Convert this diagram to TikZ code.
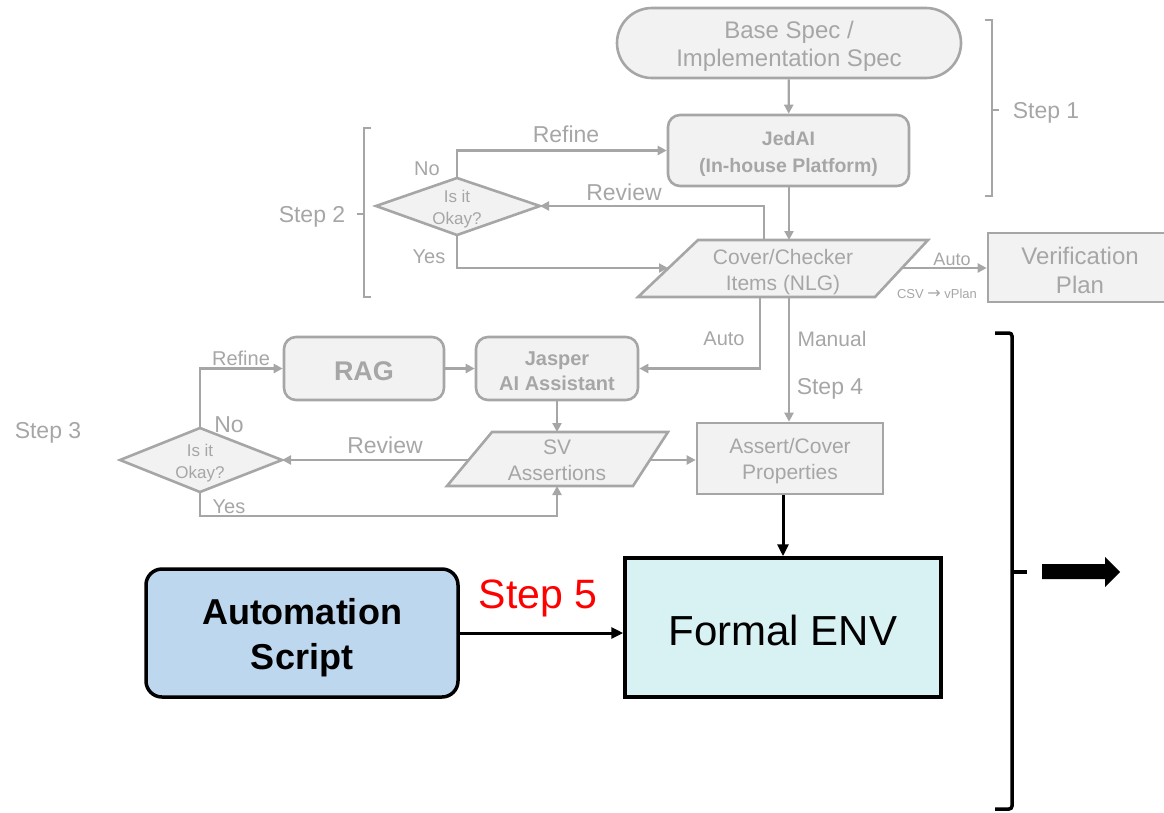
\documentclass[tikz,border=0pt]{standalone}
\usepackage{fontspec}
\setmainfont{Liberation Sans}
\newfontfamily\symfont{DejaVu Sans}
\usetikzlibrary{arrows.meta}

\definecolor{ink}{HTML}{A6A6A6}
\definecolor{paper}{HTML}{F2F2F2}
\definecolor{envfill}{HTML}{D8F2F4}
\definecolor{autofill}{HTML}{BDD7EE}

\newcommand\fsz[2]{\fontsize{#1}{#2}\selectfont}

\tikzset{
  flow/.style={draw=ink, line width=2.6pt, fill=paper, inner sep=0pt},
  flowpath/.style={draw=ink, line width=2.6pt, fill=paper, line join=miter},
  conn/.style={draw=ink, line width=2.2pt, -{Triangle[length=9pt,width=9pt]}},
  lbl/.style={text=ink, inner sep=0pt, align=center, yshift=-3pt},
  bracket/.style={draw=ink, line width=2.4pt},
  strong/.style={draw=black, line width=3pt, -{Triangle[length=12pt,width=11pt]}},
  bigbox/.style={draw=black, line width=3.5pt, inner sep=0pt},
  bigtext/.style={inner sep=0pt, align=center},
}

\begin{document}
\begin{tikzpicture}[x=1pt,y=-1pt]
\useasboundingbox (0,0) rectangle (1164,812);

% ---------- Step 1 / Step 2 ----------
\node[flow, rounded corners=35pt, minimum width=344pt, minimum height=70pt] (spec) at (789,43) {};
\node[lbl, font=\fsz{24}{28}] (specT) at (spec) {Base Spec /\\Implementation Spec};
\node[flow, rounded corners=12pt, minimum width=241pt, minimum height=71pt] (jedai) at (788.5,150.5) {};
\node[lbl, font=\bfseries\fsz{19.5}{27}] (jedaiT) at (jedai) {JedAI\\(In-house Platform)};

% Cover/Checker parallelogram
\draw[flowpath] (698,240) -- (928,240) -- (875,297) -- (638,297) -- cycle;
\node[lbl, font=\fsz{21}{26}] (cover) at (783,269) {Cover/Checker\\Items (NLG)};
\coordinate (coverT) at (789,240);
\coordinate (coverRv) at (764,240);
\coordinate (coverL) at (668,268);
\coordinate (coverR) at (902,268);
\coordinate (coverB1) at (760,297);
\coordinate (coverB2) at (789,297);

\node[flow, minimum width=184pt, minimum height=69pt] (vplan) at (1080,267.5) {};
\node[lbl, font=\fsz{24}{29}] (vplanT) at (vplan) {Verification\\Plan};

% decision diamond (step 2)
\draw[flowpath] (376,206) coordinate (d1l) -- (457,178) coordinate (d1t)
  -- (540,206) coordinate (d1r) -- (457,235) coordinate (d1b) -- cycle;
\node[lbl, font=\fsz{17}{22}] (d1) at (457,206) {Is it\\Okay?};

\draw[conn] (spec) -- (jedai);
\draw[conn] (jedai.south -| coverT) -- (coverT);
\draw[conn] (d1t) |- (jedai.west);
\draw[conn] (coverRv) |- (d1r);
\draw[conn] (d1b) |- (coverL);
\draw[conn] (coverR) -- (coverR -| vplan.west);

\node[lbl, font=\fsz{23}{26}] (refine1) at (566,131) {Refine};
\node[lbl, font=\fsz{20}{24}] (no1) at (427,166) {No};
\node[lbl, font=\fsz{23}{26}] (review1) at (624,189) {Review};
\node[lbl, font=\fsz{20}{24}] (yes1) at (429,254) {Yes};
\node[lbl, font=\fsz{18}{22}] (auto1) at (952,256) {Auto};
\node[lbl, font=\fsz{13}{16}] (csv) at (937,291) {CSV {\symfont\fontsize{16}{16}\selectfont→} vPlan};

% brackets
\draw[bracket] (985,20) -- (992,20) -- (992,196) -- (985,196);
\draw[bracket] (992,110) -- (999,110);
\node[lbl, font=\fsz{23}{26}] (step1) at (1046,110) {Step 1};
\draw[bracket] (371,128) -- (364,128) -- (364,297) -- (371,297);
\draw[bracket] (364,214) -- (357,214);
\node[lbl, font=\fsz{23}{26}] (step2) at (312,214) {Step 2};

% ---------- Step 3 / Step 4 ----------
\node[flow, rounded corners=12pt, minimum width=160pt, minimum height=63pt] (rag) at (364,368.5) {};
\node[lbl, font=\bfseries\fsz{27}{30}] (ragT) at (rag) {RAG};
\node[flow, rounded corners=12pt, minimum width=162pt, minimum height=63pt] (jasper) at (557,368.5) {};
\node[lbl, font=\bfseries\fsz{20}{25}] (jasperT) at (jasper) {Jasper\\AI Assistant};

% SV assertions parallelogram
\draw[flowpath] (492,432) -- (668,432) -- (633,486) -- (447,486) -- cycle;
\node[lbl, font=\fsz{21}{26}, yshift=2pt] (sv) at (557,459) {SV\\Assertions};
\coordinate (svT) at (557,432);
\coordinate (svB) at (557,486);
\coordinate (svL) at (469,460);
\coordinate (svR) at (650,460);

\node[flow, minimum width=186pt, minimum height=71pt] (assert) at (790,458.5) {};
\node[lbl, font=\fsz{21}{26}] (assertT) at (assert) {Assert/Cover\\Properties};

% decision diamond (step 3)
\draw[flowpath] (120,460) coordinate (d2l) -- (200,428) coordinate (d2t)
  -- (282,460) coordinate (d2r) -- (200,492) coordinate (d2b) -- cycle;
\node[lbl, font=\fsz{17}{22}] (d2) at (200,460) {Is it\\Okay?};

\draw[conn] (coverB1) |- (jasper.east);
\draw[conn] (coverB2) -- (coverB2 |- assert.north);
\draw[conn] (rag) -- (jasper);
\draw[conn] (jasper) -- (svT);
\draw[conn] (svR) -- (svR -| assert.west);
\draw[conn] (svL) -- (d2r);
\draw[conn] (d2t) |- (rag.west);
\draw[conn] (d2b) -- (200,516) -| (svB);

\node[lbl, font=\fsz{20}{24}] (auto2) at (724,336) {Auto};
\node[lbl, font=\fsz{21}{26}] (manual) at (832,336) {Manual};
\node[lbl, font=\fsz{23}{26}] (step4) at (830,386) {Step 4};
\node[lbl, font=\fsz{20}{24}] (refine2) at (241,355) {Refine};
\node[lbl, font=\fsz{23}{26}] (no2) at (229,422) {No};
\node[lbl, font=\fsz{23}{26}] (review2) at (385,442) {Review};
\node[lbl, font=\fsz{20}{24}] (yes2) at (229,504) {Yes};
\node[lbl, font=\fsz{23}{26}] (step3) at (48,430) {Step 3};

% ---------- Step 5 ----------
\node[bigbox, fill=envfill, minimum width=316pt, minimum height=139pt] (formal) at (783,627.5) {};
\node[bigtext, font=\fsz{42}{48}, yshift=-3pt] (formalT) at (formal) {Formal ENV};
\node[bigbox, fill=autofill, rounded corners=16pt, minimum width=312pt,
      minimum height=128pt] (autoscript) at (302,633) {};
\node[bigtext, font=\bfseries\fsz{36}{45}, yshift=-5pt] (autoscriptT) at (autoscript) {Automation\\Script};

\draw[strong] (formal.north |- assert.south) -- (formal.north);
\draw[strong] (autoscript.east) -- (autoscript.east -| formal.west);
\node[text=red, inner sep=0pt, font=\fsz{41}{46}] (step5) at (538,598) {Step 5};

% outer bracket and block arrow
\draw[black, line width=3.5pt, rounded corners=3pt]
  (995,333) -- (1012,333) -- (1012,809) -- (995,809);
\draw[black, line width=3.5pt] (1012,572) -- (1027,572);
\fill[black] (1042,564) -- (1105,564) -- (1105,557) -- (1120,572)
  -- (1105,587) -- (1105,579) -- (1042,579) -- cycle;
\end{tikzpicture}
\end{document}
